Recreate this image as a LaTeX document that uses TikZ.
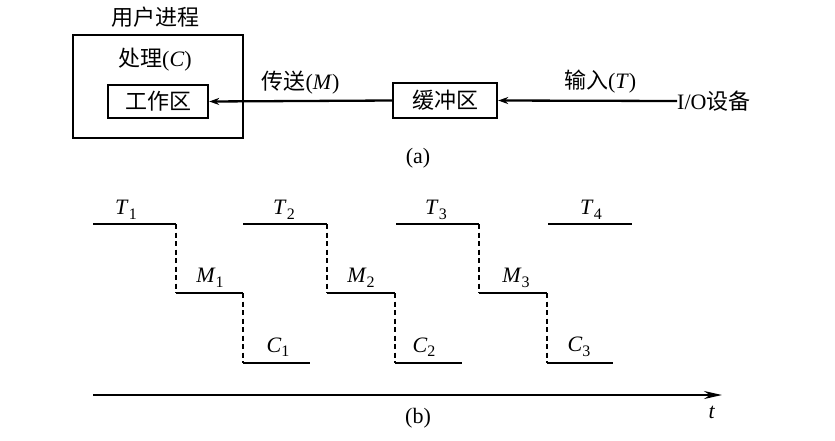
\documentclass[tikz,border=0pt]{standalone}
\usepackage{fontspec}
\setmainfont{Liberation Serif}
\newfontfamily\cjk{Noto Sans CJK SC}
\usetikzlibrary{arrows.meta}
\newcommand{\lab}[2]{\textit{#1}\raisebox{-4.5pt}{\fontsize{16}{17}\selectfont #2}}
\begin{document}
\begin{tikzpicture}[x=1pt,y=-1pt,
  box/.style={draw,line width=2.4pt,inner sep=0pt,font=\fontsize{22}{24}\selectfont},
  lbl/.style={inner sep=0pt,font=\fontsize{22}{24}\selectfont},
  sub/.style={inner sep=0pt,font=\fontsize{22}{24}\selectfont},
  stepline/.style={line width=2.3pt},
  dsh/.style={line width=1.8pt,dash pattern=on 5pt off 3.5pt},
  arr/.style={line width=2.3pt,-{Stealth[length=10pt,width=7pt]}}]
\useasboundingbox (0,0) rectangle (835,440);
% (a)
\node[box,minimum width=170pt,minimum height=103pt] (proc) at (158,86.5) {};
\node[lbl] (title) at (155,17) {\cjk 用户进程};
\node[lbl] (c) at (155,60) {{\cjk 处理}(\textit{C})};
\node[box,minimum width=100pt,minimum height=33pt] (work) at (158,101.5) {\cjk 工作区};
\node[box,minimum width=104pt,minimum height=35pt] (buf) at (445,100.5) {\cjk 缓冲区};
\node[lbl,anchor=west] (io) at (677,101) {I/O{\cjk 设备}};
\draw[arr] (buf.west) -- (work.east) node[lbl,midway,above=6pt] (m) {{\cjk 传送}(\textit{M})};
\draw[arr] (io.west) -- (buf.east) node[lbl,pos=0.43,above=6pt] (tin) {{\cjk 输入}(\textit{T})};
\node[lbl] (a) at (418,158) {(a)};
% (b)
\foreach \n/\x/\y in {a0/93/224,a1/176/224,a2/176/293,a3/243/293,a4/243/363,a5/310/363,
  b0/243/224,b1/327/224,b2/327/293,b3/395/293,b4/395/363,b5/462/363,
  c0/396/224,c1/479/224,c2/479/293,c3/547/293,c4/547/363,c5/613/363,
  d0/548/224,d1/632/224}
  \coordinate (\n) at (\x,\y);
\foreach \p in {a,b,c}{
  \draw[stepline] (\p0) -- (\p1);
  \draw[dsh] (\p1) -- (\p2);
  \draw[stepline] (\p2) -- (\p3);
  \draw[dsh] (\p3) -- (\p4);
  \draw[stepline] (\p4) -- (\p5);
}
\draw[stepline] (d0) -- (d1);
\node[sub] (t1) at (126,210) {\lab{T}{1}};
\node[sub] (m1) at (210,278) {\lab{M}{1}};
\node[sub] (c1) at (278,347) {\lab{C}{1}};
\node[sub] (t2) at (284,210) {\lab{T}{2}};
\node[sub] (m2) at (361,278) {\lab{M}{2}};
\node[sub] (c2) at (424,347) {\lab{C}{2}};
\node[sub] (t3) at (436,210) {\lab{T}{3}};
\node[sub] (m3) at (516,278) {\lab{M}{3}};
\node[sub] (c3) at (579,347) {\lab{C}{3}};
\node[sub] (t4) at (591,210) {\lab{T}{4}};
\coordinate (ax0) at (93,395);
\coordinate (ax1) at (722,395);
\draw[line width=2.3pt,-{Stealth[length=18pt,width=8pt]}] (ax0) -- (ax1);
\node[sub] (tt) at (712,412) {\textit{t}};
\node[lbl] (b) at (418,418) {(b)};
\end{tikzpicture}
\end{document}
